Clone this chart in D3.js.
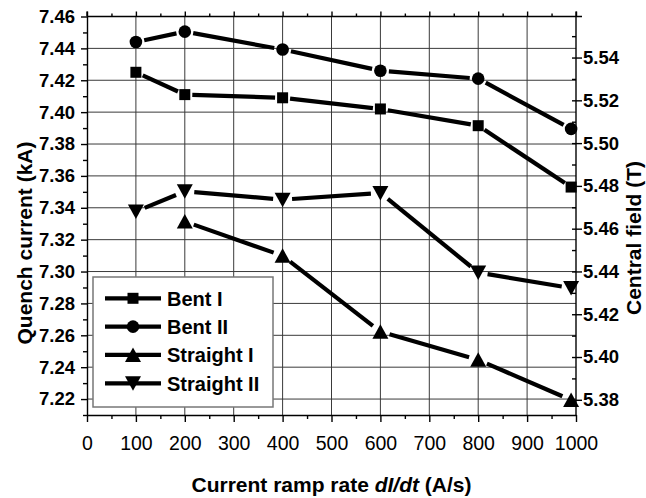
<!DOCTYPE html>
<html>
<head>
<meta charset="utf-8">
<script src="https://cdn.jsdelivr.net/npm/d3@7"></script>
<style>
  html, body { margin: 0; padding: 0; background: #fff; }
  svg { display: block; font-family: "Liberation Sans", Arial, Helvetica, sans-serif; }
</style>
</head>
<body>
<svg id="chart" width="646" height="498"></svg>
<script>
// Quench current vs. current ramp rate for four coils
const rampRates  = [100, 200, 400, 600, 800, 990];
const bentI      = [7.425, 7.411, 7.409, 7.402, 7.3915, 7.353];
const bentII     = [7.444, 7.4505, 7.4393, 7.426, 7.421, 7.3895];
const straightI  = [null, 7.3314, 7.3099, 7.2623, 7.2446, 7.2194];
const straightII = [7.3377, 7.3503, 7.3451, 7.3493, 7.2994, 7.2896];

const seriesNames = ["Bent I", "Bent II", "Straight I", "Straight II"];
const seriesSymbols = ["square", "circle", "triangleUp", "triangleDown"];

const xTicks = [0, 100, 200, 300, 400, 500, 600, 700, 800, 900, 1000];
const currentTicks = [7.22, 7.24, 7.26, 7.28, 7.30, 7.32, 7.34, 7.36, 7.38, 7.40, 7.42, 7.44, 7.46];
const fieldTicks = [5.38, 5.40, 5.42, 5.44, 5.46, 5.48, 5.50, 5.52, 5.54];
const fieldPerCurrent = 0.7452;   // central field (T) per kA

const svg = d3.select("#chart");
const plotLeft = 87, plotRight = 576, plotTop = 16.5, plotBottom = 415;

const x = d3.scaleLinear().domain([0, 1000]).range([plotLeft, plotRight]);
const y = d3.scaleLinear().domain([7.21, 7.46]).range([plotBottom, plotTop]);
const y2 = d3.scaleLinear()
  .domain([7.21 * fieldPerCurrent, 7.46 * fieldPerCurrent])
  .range([plotBottom, plotTop]);

const xMinor = d3.range(50, 1000, 100);
const yMinor = d3.range(7.21, 7.455, 0.02).map(v => +v.toFixed(2));
const y2Minor = d3.range(5.37, 5.56, 0.02).map(v => +v.toFixed(2))
  .filter(v => y2(v) >= plotTop && y2(v) <= plotBottom);

// grid
const grid = svg.append("g").attr("stroke", "#3a3a3a").attr("stroke-width", 1);
xTicks.slice(1, -1).forEach(v => {
  grid.append("line").attr("x1", x(v)).attr("x2", x(v)).attr("y1", plotTop).attr("y2", plotBottom);
});
currentTicks.slice(0, -1).forEach(v => {
  grid.append("line").attr("x1", plotLeft).attr("x2", plotRight).attr("y1", y(v)).attr("y2", y(v));
});

function styleAxis(g) {
  g.selectAll("path, line").attr("stroke", "#000").attr("stroke-width", 1.4);
}

// bottom axis
const gx = svg.append("g").attr("transform", `translate(0,${plotBottom})`)
  .call(d3.axisBottom(x).tickValues(xTicks).tickSize(7).tickSizeOuter(0).tickPadding(14).tickFormat(d3.format("d")));
styleAxis(gx);
gx.selectAll("text").attr("font-size", 19.5).attr("fill", "#000");
svg.append("g").attr("transform", `translate(0,${plotBottom})`)
  .call(d3.axisBottom(x).tickValues(xMinor).tickSize(4).tickFormat(""))
  .call(g => g.select(".domain").remove()).call(styleAxis);

// top axis
const gt = svg.append("g").attr("transform", `translate(0,${plotTop})`)
  .call(d3.axisTop(x).tickValues(xTicks).tickSize(5).tickSizeOuter(0).tickFormat(""));
styleAxis(gt);
gt.select(".domain").attr("d", `M${plotLeft},0H${plotRight + 6}`);
svg.append("g").attr("transform", `translate(0,${plotTop})`)
  .call(d3.axisTop(x).tickValues(xMinor).tickSize(3).tickFormat(""))
  .call(g => g.select(".domain").remove()).call(styleAxis);

// left axis: quench current
const gy = svg.append("g").attr("transform", `translate(${plotLeft},0)`)
  .call(d3.axisLeft(y).tickValues(currentTicks).tickSize(6).tickSizeOuter(0).tickPadding(6).tickFormat(d3.format(".2f")));
styleAxis(gy);
gy.selectAll("text").attr("font-size", 18.5).attr("font-weight", "bold").attr("fill", "#000");
svg.append("g").attr("transform", `translate(${plotLeft},0)`)
  .call(d3.axisLeft(y).tickValues(yMinor).tickSize(4).tickFormat(""))
  .call(g => g.select(".domain").remove()).call(styleAxis);

// right axis: central field
const gr = svg.append("g").attr("transform", `translate(${plotRight},0)`)
  .call(d3.axisRight(y2).tickValues(fieldTicks).tickSize(6).tickSizeOuter(0).tickPadding(1).tickFormat(d3.format(".2f")));
styleAxis(gr);
gr.select(".domain").attr("d", `M0,${plotBottom}V${plotTop - 5}`);
gr.selectAll("text").attr("font-size", 18.5).attr("font-weight", "bold").attr("fill", "#000");
svg.append("g").attr("transform", `translate(${plotRight},0)`)
  .call(d3.axisRight(y2).tickValues(fieldTicks.concat(y2Minor)).tickSize(-4).tickFormat(""))
  .call(g => g.select(".domain").remove()).call(styleAxis);
svg.append("line").attr("x1", plotLeft).attr("x2", plotLeft).attr("y1", plotTop - 5).attr("y2", plotTop)
  .attr("stroke", "#000").attr("stroke-width", 1.4);

// symbols
function symbolPath(kind) {
  if (kind === "square") return "M-5.5,-5.5H5.5V5.5H-5.5Z";
  if (kind === "circle") return d3.symbol(d3.symbolCircle, Math.PI * 6.3 * 6.3)();
  if (kind === "triangleUp") return "M0,-7.5L8,7L-8,7Z";
  return "M0,7.5L8,-7L-8,-7Z";
}
const symbolGap = { square: 7.5, circle: 8.5, triangleUp: 9.5, triangleDown: 9.5 };

const allSeries = [bentI, bentII, straightI, straightII];
const plot = svg.append("g");
allSeries.forEach((vals, i) => {
  const kind = seriesSymbols[i];
  const pts = rampRates.map((r, j) => ({ r, v: vals[j] })).filter(d => d.v != null)
    .map(d => ({ px: x(d.r), py: y(d.v) }));
  const gap = symbolGap[kind];
  for (let k = 0; k < pts.length - 1; k++) {
    const a = pts[k], b = pts[k + 1];
    const dx = b.px - a.px, dy = b.py - a.py, len = Math.hypot(dx, dy);
    const ux = dx / len, uy = dy / len;
    plot.append("line")
      .attr("x1", a.px + ux * gap).attr("y1", a.py + uy * gap)
      .attr("x2", b.px - ux * gap).attr("y2", b.py - uy * gap)
      .attr("stroke", "#000").attr("stroke-width", 4.2);
  }
  plot.selectAll(null).data(pts).enter().append("path")
    .attr("d", symbolPath(kind))
    .attr("transform", d => `translate(${d.px},${d.py})`)
    .attr("fill", "#000");
});

// legend
const legend = svg.append("g");
legend.append("rect").attr("x", 93).attr("y", 277).attr("width", 180).attr("height", 130)
  .attr("fill", "#fff").attr("stroke", "#777").attr("stroke-width", 1.5);
const rowY = d3.scalePoint().domain(seriesNames).range([298.3, 383.3]);
seriesNames.forEach((name, i) => {
  const yy = rowY(name);
  legend.append("line").attr("x1", 105).attr("x2", 161).attr("y1", yy).attr("y2", yy)
    .attr("stroke", "#000").attr("stroke-width", 4.2);
  legend.append("path").attr("d", symbolPath(seriesSymbols[i]))
    .attr("transform", `translate(133,${yy})`).attr("fill", "#000");
  legend.append("text").attr("x", 167).attr("y", yy).attr("dy", "0.36em")
    .attr("font-size", 20).attr("font-weight", "bold").text(name);
});

// axis titles
svg.append("text").attr("transform", "translate(24,243) rotate(-90)")
  .attr("text-anchor", "middle").attr("dy", "0.36em")
  .attr("font-size", 21).attr("font-weight", "bold").text("Quench current (kA)");
svg.append("text").attr("transform", "translate(633,238) rotate(-90)")
  .attr("text-anchor", "middle").attr("dy", "0.36em")
  .attr("font-size", 21).attr("font-weight", "bold").text("Central field (T)");
const xt = svg.append("text").attr("x", (plotLeft + plotRight) / 2).attr("y", 492)
  .attr("text-anchor", "middle").attr("font-size", 21).attr("font-weight", "bold");
xt.append("tspan").text("Current ramp rate ");
xt.append("tspan").attr("font-style", "italic").text("dI/dt");
xt.append("tspan").text(" (A/s)");
</script>
</body>
</html>
